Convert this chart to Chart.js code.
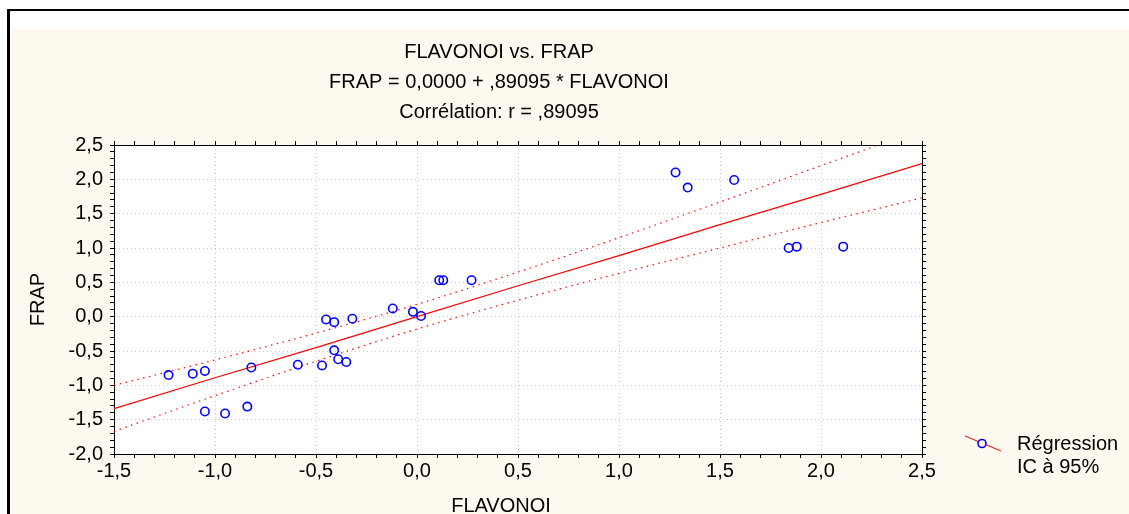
<!DOCTYPE html>
<html>
<head>
<meta charset="utf-8">
<script src="https://cdn.jsdelivr.net/npm/chart.js@4/dist/chart.umd.min.js"></script>
<style>
html,body{margin:0;padding:0;background:#fff;width:1129px;height:514px;overflow:hidden;}
#frame{position:absolute;left:7px;top:9px;width:1122px;height:505px;border-top:2px solid #000;border-left:3px solid #000;box-sizing:border-box;}
#panel{position:absolute;left:12px;top:29px;right:0;bottom:0;background:#FDF9EE;}
#wrap{position:absolute;left:0;top:0;width:1129px;height:514px;}
</style>
</head>
<body>
<div id="frame"></div>
<div id="panel"></div>
<div id="wrap"><canvas id="c" width="1129" height="514"></canvas></div>
<script>
// ---- data ----
const flavonoi = [-1.23,-1.11,-1.05,-1.05,-0.95,-0.84,-0.82,-0.59,-0.47,-0.45,-0.41,-0.41,-0.39,-0.35,-0.32,-0.12,-0.02,0.02,0.11,0.13,0.27,1.28,1.34,1.57,1.84,1.88,2.11];
const frap     = [-0.85,-0.83,-0.79,-1.38,-1.41,-1.31,-0.74,-0.70,-0.71,-0.04,-0.08,-0.49,-0.62,-0.66,-0.03,0.12,0.07,0.01,0.53,0.53,0.53,2.10,1.88,1.99,1.00,1.02,1.02];

const lineX   = [-1.5,-1.0,-0.5,0.0,0.5,1.0,1.5,2.0,2.5];
const fitY    = [-1.34,-0.89,-0.45,0.00,0.45,0.89,1.34,1.78,2.23];
const ciUpper = [-1.00,-0.63,-0.24,0.18,0.65,1.15,1.67,2.20,2.73];
const ciLower = [-1.67,-1.15,-0.65,-0.18,0.24,0.63,1.00,1.37,1.73];

const xTickValues = [-1.5,-1.0,-0.5,0.0,0.5,1.0,1.5,2.0,2.5];
const xTickLabels = ['-1,5','-1,0','-0,5','0,0','0,5','1,0','1,5','2,0','2,5'];
const yTickValues = [-2.0,-1.5,-1.0,-0.5,0.0,0.5,1.0,1.5,2.0,2.5];
const yTickLabels = ['-2,0','-1,5','-1,0','-0,5','0,0','0,5','1,0','1,5','2,0','2,5'];

const titleLines = ['FLAVONOI vs. FRAP','FRAP = 0,0000 + ,89095 * FLAVONOI','Corrélation: r = ,89095'];
const xTitle = 'FLAVONOI';
const yTitle = 'FRAP';
const legendLines = ['Régression','IC à 95%'];

// ---- helpers ----
const FONT = "'Liberation Sans', Arial, sans-serif";
function labelFor(values, labels, v){
  for (let i=0;i<values.length;i++){ if (Math.abs(values[i]-v) < 1e-6) return labels[i]; }
  return '';
}
function isMajor(values, v){ return values.some(t => Math.abs(t-v) < 1e-6); }
const pts = (xs, ys) => xs.map((x,i)=>({x:x, y:ys[i]}));

const xMin = xTickValues[0], xMax = xTickValues[xTickValues.length-1];
const yMin = yTickValues[0], yMax = yTickValues[yTickValues.length-1];

function gridColor(values, min, max){
  return (ctx) => {
    const v = ctx.tick ? ctx.tick.value : null;
    if (v === null) return 'rgba(0,0,0,0)';
    if (Math.abs(v-min)<1e-6 || Math.abs(v-max)<1e-6) return 'rgba(0,0,0,0)';
    return isMajor(values, v) ? '#cacaca' : 'rgba(0,0,0,0)';
  };
}

const plotBg = {
  id:'plotBg',
  beforeDraw(chart){
    const {ctx, chartArea:a} = chart;
    ctx.save(); ctx.fillStyle = '#ffffff';
    ctx.fillRect(a.left, a.top, a.right-a.left, a.bottom-a.top);
    ctx.restore();
  }
};

const titlePlugin = {
  id:'multiTitle',
  afterDraw(chart){
    const {ctx, chartArea:a} = chart;
    ctx.save();
    ctx.fillStyle = '#000'; ctx.font = '20px ' + FONT;
    ctx.textAlign = 'center'; ctx.textBaseline = 'middle';
    const cx = (a.left + a.right)/2 - 19;
    titleLines.forEach((t,i)=> ctx.fillText(t, cx, a.top - 93 + i*30));
    ctx.fillText(xTitle, (a.left + a.right)/2 - 17, a.bottom + 52);
    ctx.restore();
  }
};

const legendPlugin = {
  id:'legendBox',
  afterDraw(chart){
    const {ctx, chartArea:a} = chart;
    const fitDs = chart.data.datasets[1];
    const ptDs = chart.data.datasets[0];
    ctx.save();
    ctx.strokeStyle = fitDs.borderColor; ctx.lineWidth = 1;
    ctx.beginPath(); ctx.moveTo(a.right+43, a.bottom-18); ctx.lineTo(a.right+79, a.bottom-3); ctx.stroke();
    ctx.fillStyle = '#FDF9EE';
    ctx.strokeStyle = ptDs.borderColor; ctx.lineWidth = ptDs.borderWidth;
    ctx.beginPath(); ctx.arc(a.right+60, a.bottom-10.5, 4, 0, Math.PI*2); ctx.fill(); ctx.stroke();
    ctx.fillStyle = '#000'; ctx.font = '20px ' + FONT;
    ctx.textAlign = 'left'; ctx.textBaseline = 'middle';
    legendLines.forEach((t,i)=> ctx.fillText(t, a.right+95, a.bottom-10 + i*23));
    ctx.restore();
  }
};

const tickFont = {family: FONT, size: 20};

new Chart(document.getElementById('c'), {
  type: 'scatter',
  data: {
    datasets: [
      {
        label: 'points',
        data: pts(flavonoi, frap),
        showLine: false,
        pointStyle: 'circle',
        pointRadius: 4.2,
        pointHoverRadius: 4.2,
        borderColor: '#0000ff',
        backgroundColor: 'rgba(255,255,255,0)',
        borderWidth: 1.6
      },
      {
        label: 'Régression',
        data: pts(lineX, fitY),
        showLine: true,
        pointRadius: 0,
        borderColor: '#ff0000',
        borderWidth: 1.2,
        tension: 0
      },
      {
        label: 'IC sup',
        data: pts(lineX, ciUpper),
        showLine: true,
        pointRadius: 0,
        borderColor: '#ff0000',
        borderWidth: 1.2,
        borderDash: [1.5, 4.5],
        cubicInterpolationMode: 'monotone'
      },
      {
        label: 'IC inf',
        data: pts(lineX, ciLower),
        showLine: true,
        pointRadius: 0,
        borderColor: '#ff0000',
        borderWidth: 1.2,
        borderDash: [1.5, 4.5],
        cubicInterpolationMode: 'monotone'
      }
    ]
  },
  options: {
    responsive: false,
    animation: false,
    events: [],
    layout: { padding: { left: 12, right: 202, top: 141, bottom: 0 } },
    plugins: { legend: {display:false}, tooltip: {enabled:false}, title:{display:false} },
    scales: {
      x: {
        type: 'linear', position: 'bottom', min: xMin, max: xMax,
        afterFit: (s) => { s.height = 60; },
        ticks: {
          stepSize: 0.1, autoSkip: false, maxRotation: 0, minRotation: 0, padding: 1,
          color: '#000', font: tickFont,
          callback: (v) => labelFor(xTickValues, xTickLabels, v)
        },
        grid: { color: gridColor(xTickValues, xMin, xMax), lineWidth: 1, tickLength: 4, tickColor: '#000', drawTicks: true },
        border: { color: '#000', width: 1, dash: [1, 3] },
        title: { display: false }
      },
      x2: {
        type: 'linear', position: 'top', min: xMin, max: xMax,
        afterFit: (s) => { s.height = 4; },
        ticks: { stepSize: 0.1, autoSkip: false, display: false },
        grid: { drawOnChartArea: false, tickLength: 4, tickColor: '#000' },
        border: { color: '#000', width: 1 }
      },
      y: {
        type: 'linear', position: 'left', min: yMin, max: yMax,
        afterFit: (s) => { s.width = 102; },
        ticks: {
          stepSize: 0.1, autoSkip: false, padding: 7,
          color: '#000', font: tickFont,
          callback: (v) => labelFor(yTickValues, yTickLabels, v)
        },
        grid: { color: gridColor(yTickValues, yMin, yMax), lineWidth: 1, tickLength: 4, tickColor: '#000', drawTicks: true },
        border: { color: '#000', width: 1, dash: [1, 3] },
        title: { display: true, text: yTitle, color: '#000', font: {family: FONT, size: 20, lineHeight: 1}, padding: {top: 16, bottom: 0} }
      },
      y2: {
        type: 'linear', position: 'right', min: yMin, max: yMax,
        afterFit: (s) => { s.width = 5; },
        ticks: { stepSize: 0.1, autoSkip: false, display: false },
        grid: { drawOnChartArea: false, tickLength: 4, tickColor: '#000' },
        border: { color: '#000', width: 1 }
      }
    }
  },
  plugins: [plotBg, titlePlugin, legendPlugin]
});
</script>
</body>
</html>
